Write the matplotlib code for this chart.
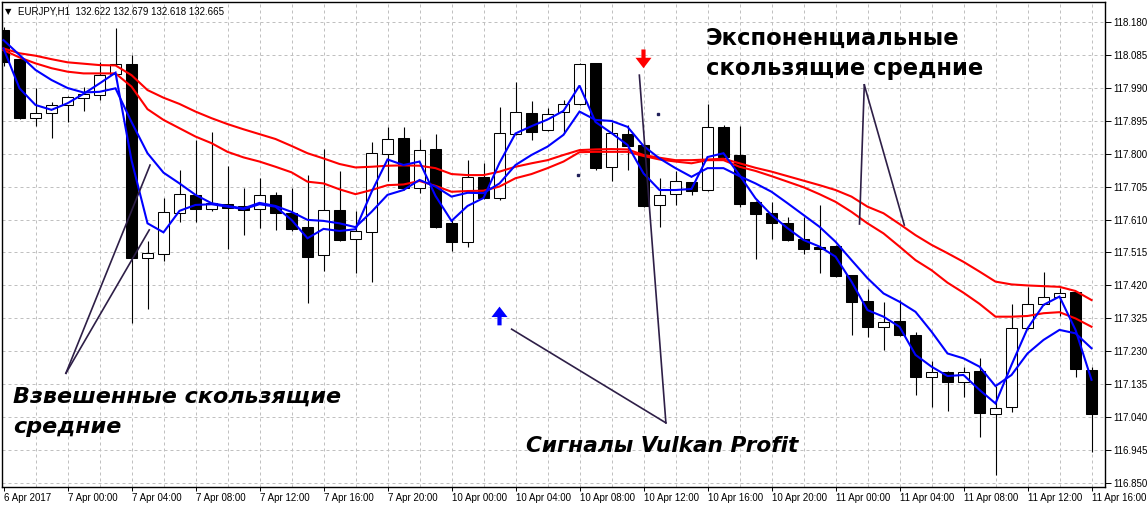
import numpy as np
import matplotlib
matplotlib.use("Agg")
import matplotlib.pyplot as plt

# EURJPY H1, 6 Apr 20:00 .. 11 Apr 16:00
opens = [118.156, 118.072, 117.902, 117.916, 117.939, 117.960, 117.968, 118.029, 118.058, 117.498,
         117.510, 117.628, 117.681, 117.639, 117.655, 117.649, 117.639, 117.681, 117.630, 117.588,
         117.507, 117.637, 117.553, 117.573, 117.798, 117.844, 117.700, 117.813, 117.599, 117.544,
         117.733, 117.671, 117.856, 117.916, 117.867, 117.919, 117.942, 118.060, 117.762, 117.856,
         117.825, 117.652, 117.683, 117.717, 117.695, 117.877, 117.796, 117.661, 117.628, 117.599,
         117.553, 117.532, 117.535, 117.450, 117.375, 117.301, 117.318, 117.277, 117.157, 117.170,
         117.143, 117.173, 117.049, 117.069, 117.296, 117.367, 117.386, 117.400, 117.176]
highs = [118.165, 118.075, 117.988, 117.949, 117.966, 117.993, 118.064, 118.161, 118.084, 117.549,
         117.671, 117.753, 117.839, 117.861, 117.765, 117.700, 117.730, 117.688, 117.700, 117.738,
         117.812, 117.750, 117.635, 117.832, 117.876, 117.877, 117.842, 117.856, 117.611, 117.781,
         117.772, 117.933, 118.007, 117.951, 117.930, 117.954, 118.060, 118.062, 117.890, 117.882,
         117.830, 117.730, 117.750, 117.718, 117.942, 117.882, 117.879, 117.663, 117.661, 117.616,
         117.618, 117.652, 117.537, 117.450, 117.410, 117.373, 117.378, 117.287, 117.203, 117.174,
         117.186, 117.212, 117.130, 117.367, 117.416, 117.460, 117.413, 117.404, 117.186]
lows = [118.052, 117.900, 117.879, 117.844, 117.892, 117.924, 117.954, 118.012, 117.313, 117.351,
        117.490, 117.604, 117.604, 117.635, 117.524, 117.565, 117.586, 117.580, 117.578, 117.370,
        117.462, 117.548, 117.456, 117.431, 117.721, 117.695, 117.686, 117.586, 117.520, 117.532,
        117.669, 117.666, 117.854, 117.839, 117.865, 117.858, 117.940, 117.753, 117.721, 117.753,
        117.646, 117.587, 117.652, 117.681, 117.692, 117.781, 117.647, 117.496, 117.554, 117.549,
        117.511, 117.455, 117.443, 117.277, 117.272, 117.234, 117.274, 117.104, 117.071, 117.059,
        117.099, 116.984, 116.874, 117.056, 117.294, 117.364, 117.332, 117.155, 116.939]
closes = [118.064, 117.903, 117.916, 117.939, 117.962, 117.972, 118.026, 118.057, 117.498, 117.514,
          117.631, 117.683, 117.639, 117.657, 117.643, 117.637, 117.681, 117.630, 117.583, 117.503,
          117.637, 117.551, 117.577, 117.801, 117.842, 117.700, 117.809, 117.588, 117.546, 117.733,
          117.671, 117.858, 117.919, 117.863, 117.915, 117.942, 118.057, 117.759, 117.858, 117.822,
          117.650, 117.681, 117.720, 117.693, 117.876, 117.790, 117.655, 117.626, 117.601, 117.551,
          117.525, 117.526, 117.447, 117.373, 117.301, 117.316, 117.277, 117.157, 117.170, 117.143,
          117.170, 117.052, 117.066, 117.296, 117.367, 117.388, 117.397, 117.178, 117.049]

ema_slow = [118.103, 118.089, 118.082, 118.072, 118.063, 118.059, 118.055, 118.054, 118.026, 117.983,
            117.961, 117.943, 117.921, 117.902, 117.885, 117.870, 117.856, 117.842, 117.822, 117.801,
            117.786, 117.770, 117.760, 117.762, 117.765, 117.766, 117.765, 117.758, 117.741, 117.738,
            117.738, 117.748, 117.762, 117.772, 117.781, 117.796, 117.810, 117.812, 117.813, 117.812,
            117.796, 117.788, 117.781, 117.781, 117.783, 117.785, 117.772, 117.759, 117.748, 117.735,
            117.722, 117.709, 117.695, 117.676, 117.647, 117.628, 117.597, 117.565, 117.537, 117.513,
            117.488, 117.460, 117.431, 117.423, 117.420, 117.418, 117.416, 117.404, 117.378]
ema_fast = [118.098, 118.077, 118.060, 118.046, 118.036, 118.031, 118.031, 118.031, 117.993, 117.928,
            117.897, 117.873, 117.849, 117.830, 117.805, 117.789, 117.777, 117.762, 117.746, 117.719,
            117.714, 117.697, 117.683, 117.695, 117.709, 117.711, 117.721, 117.707, 117.690, 117.692,
            117.693, 117.705, 117.729, 117.741, 117.758, 117.777, 117.804, 117.805, 117.805, 117.805,
            117.793, 117.783, 117.777, 117.772, 117.781, 117.781, 117.762, 117.750, 117.735, 117.719,
            117.703, 117.683, 117.661, 117.632, 117.599, 117.570, 117.532, 117.493, 117.464, 117.428,
            117.399, 117.367, 117.330, 117.330, 117.332, 117.340, 117.343, 117.325, 117.301]
wma_slow = [118.127, 118.084, 118.041, 118.012, 117.989, 117.976, 117.978, 117.988, 117.891, 117.801,
            117.745, 117.714, 117.681, 117.657, 117.649, 117.642, 117.658, 117.649, 117.632, 117.609,
            117.606, 117.599, 117.588, 117.632, 117.681, 117.695, 117.724, 117.705, 117.676, 117.687,
            117.686, 117.714, 117.767, 117.796, 117.820, 117.854, 117.921, 117.897, 117.894, 117.877,
            117.822, 117.786, 117.758, 117.733, 117.758, 117.758, 117.735, 117.714, 117.690, 117.657,
            117.623, 117.589, 117.546, 117.493, 117.441, 117.397, 117.373, 117.344, 117.287, 117.224,
            117.210, 117.186, 117.130, 117.162, 117.224, 117.263, 117.292, 117.282, 117.239]
wma_fast = [118.103, 117.988, 117.940, 117.926, 117.945, 117.972, 118.002, 118.033, 117.781, 117.599,
            117.573, 117.635, 117.652, 117.654, 117.647, 117.640, 117.654, 117.647, 117.609, 117.556,
            117.583, 117.577, 117.582, 117.689, 117.783, 117.767, 117.777, 117.678, 117.606, 117.649,
            117.672, 117.773, 117.858, 117.879, 117.898, 117.923, 117.996, 117.891, 117.859, 117.825,
            117.743, 117.695, 117.695, 117.698, 117.790, 117.801, 117.738, 117.671, 117.623, 117.585,
            117.551, 117.532, 117.503, 117.431, 117.349, 117.330, 117.301, 117.220, 117.186, 117.159,
            117.162, 117.119, 117.080, 117.191, 117.296, 117.364, 117.388, 117.292, 117.148]

time_labels = ["6 Apr 2017", "7 Apr 00:00", "7 Apr 04:00", "7 Apr 08:00", "7 Apr 12:00",
               "7 Apr 16:00", "7 Apr 20:00", "10 Apr 00:00", "10 Apr 04:00", "10 Apr 08:00",
               "10 Apr 12:00", "10 Apr 16:00", "10 Apr 20:00", "11 Apr 00:00", "11 Apr 04:00",
               "11 Apr 08:00", "11 Apr 12:00", "11 Apr 16:00"]
price_ticks = [116.850 + 0.095 * k for k in range(15)]

# vulkan profit signals: (bar, price of arrow tip)
sell_signal = (40, 118.046)
buy_signal = (31, 117.359)
dots = [(35.9, 117.738), (40.9, 117.914)]

# pointer lines (bar, price)
ema_ptr = [(53.8, 117.998), (53.5, 117.597), (56.3, 117.594)]
wma_ptr = [(3.9, 117.167), (9.16, 117.767), (9.11, 117.580)]
sig_ptr = [(41.4, 117.024), (31.76, 117.294), (39.74, 118.026)]

W, H = 1148, 508
fig = plt.figure(figsize=(W / 100, H / 100), dpi=100)
ax = fig.add_axes([2 / W, 21.3 / H, 1103 / W, 484.4 / H])

x = np.arange(len(opens))
o = np.array(opens); c = np.array(closes)
ax.vlines(x, lows, highs, color="black", lw=0.8, zorder=2)
bull = c >= o
bottoms = np.minimum(o, c)
heights = np.maximum(np.abs(c - o), 0.0012)
ax.bar(x[bull], heights[bull], bottom=bottoms[bull], width=0.66,
       facecolor="white", edgecolor="black", linewidth=0.75, zorder=2.5)
ax.bar(x[~bull], heights[~bull], bottom=bottoms[~bull], width=0.66,
       facecolor="black", edgecolor="black", linewidth=0.75, zorder=2.5)

for s, col in [(ema_slow, "#ff0000"), (ema_fast, "#ff0000"), (wma_slow, "#0000ff"), (wma_fast, "#0000ff")]:
    ax.plot(x, s, color=col, lw=1.5, zorder=3, solid_joinstyle="miter")

# signal arrows
arrow = "simple,head_length=0.75,head_width=1.15,tail_width=0.3"
ax.annotate("", xy=sell_signal, xytext=(sell_signal[0], sell_signal[1] + 0.054),
            arrowprops=dict(arrowstyle=arrow, color="#ff0000", mutation_scale=10, lw=0,
                            shrinkA=0, shrinkB=0), zorder=5)
ax.annotate("", xy=buy_signal, xytext=(buy_signal[0], buy_signal[1] - 0.054),
            arrowprops=dict(arrowstyle=arrow, color="#0000ff", mutation_scale=10, lw=0,
                            shrinkA=0, shrinkB=0), zorder=5)
ax.plot([d[0] for d in dots], [d[1] for d in dots], ls="none", marker="s", ms=1.5,
        color="#20205a", zorder=4)

pcol = "#2e1f47"
for ptr in (ema_ptr, wma_ptr, sig_ptr):
    apex = ptr[0]
    for end in ptr[1:]:
        ax.plot([apex[0], end[0]], [apex[1], end[1]], color=pcol, lw=1.2, zorder=4)

ax.set_xlim((2 - 3.5) / 16, (1105 - 3.5) / 16)
ax.set_ylim(116.8401, 118.2359)

ax.set_yticks(price_ticks)
ax.set_yticklabels(["%.3f" % p for p in price_ticks])
ax.yaxis.tick_right()
ax.set_xticks(np.arange(0, len(opens), 4))
ax.set_xticklabels(time_labels, ha="left")
ax.tick_params(axis="y", length=4, width=0.7, pad=2, labelsize=7, direction="out")
ax.tick_params(axis="x", length=3, width=0.7, pad=1.5, labelsize=7, direction="out")
for lab in ax.get_xticklabels() + ax.get_yticklabels():
    lab.set_fontfamily("Liberation Sans")

# grid
for p in price_ticks:
    ax.axhline(p, color="#c0c0c0", lw=0.72, ls=(0, (3, 3)), zorder=0)
for b in range(2, len(opens), 2):
    ax.axvline(b, color="#c0c0c0", lw=0.72, ls=(0, (3, 3)), zorder=0)
for sp in ax.spines.values():
    sp.set_linewidth(1.0)

# header
fig.text(5 / W, 1 - 14 / H, "\u25bc", fontsize=6, color="black")
fig.text(18 / W, 1 - 15 / H, "EURJPY,H1  132.622 132.679 132.618 132.665",
         fontsize=7, family="Liberation Sans", color="black")

# annotations
bold = dict(family="DejaVu Sans", weight="bold", color="black")
fig.text(706 / W, 1 - 45 / H, "Экспоненциальные", fontsize=16.3, **bold)
fig.text(706 / W, 1 - 75 / H, "скользящие средние", fontsize=16.3, **bold)
fig.text(13 / W, 1 - 403 / H, "Взвешенные скользящие", fontsize=16, style="italic", **bold)
fig.text(13 / W, 1 - 433 / H, "средние", fontsize=16, style="italic", **bold)
fig.text(526 / W, 1 - 452 / H, "Сигналы Vulkan Profit", fontsize=15.6, style="italic", **bold)

fig.savefig("out.png", dpi=100)
